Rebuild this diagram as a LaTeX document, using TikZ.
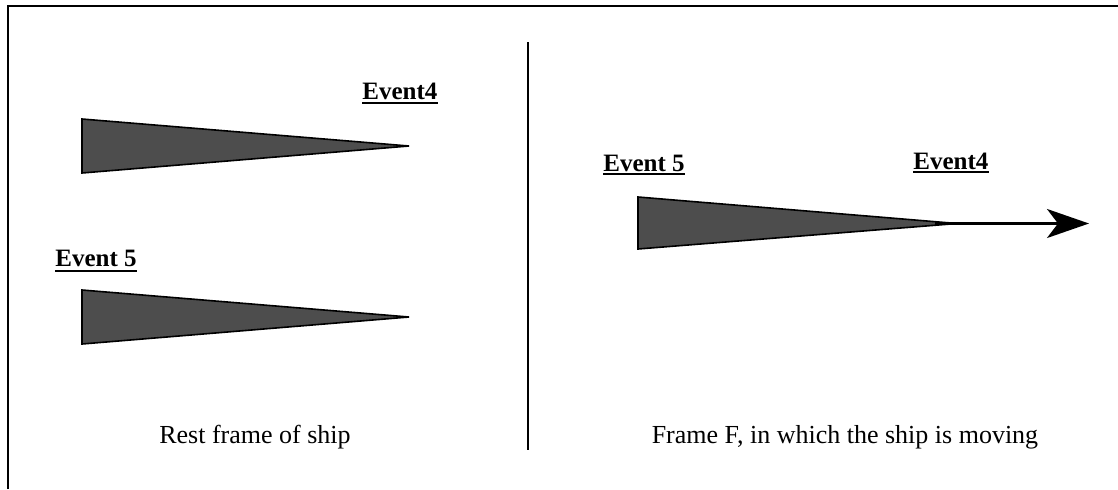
\documentclass[tikz,border=0pt]{standalone}
\usepackage{fontspec}
\setmainfont{Liberation Serif}
\usepackage{xcolor}
\usepackage{tikz}
\usetikzlibrary{arrows.meta,positioning,calc}

\definecolor{shipgray}{RGB}{77,77,77}
\tikzset{
    ship/.style={draw=black, fill=shipgray, line width=0.8pt, line join=miter},
    eventlabel/.style={font=\fontsize{12.5}{15}\selectfont\bfseries, inner sep=0pt, anchor=base west},
    eventline/.style={line width=1pt},
    framelabel/.style={font=\fontsize{13}{16}\selectfont, inner sep=0pt, anchor=base},
    motion/.style={line width=1.3pt, -{Stealth[length=21pt, width=14.5pt, inset=5.5pt]}}
}

\begin{document}
\begin{tikzpicture}[x=0.5pt, y=-0.5pt]
    \useasboundingbox (0,0) rectangle (1118,489);

    % Border and divider
    \draw[line width=1pt] (7.5,489) -- (7.5,5.5) -- (1118,5.5);
    \draw[line width=1pt] (528,42) -- (528,450);

    % Rest frame of ship
    \draw[ship] (82,119) -- (82,173) -- (409,146) -- cycle;
    \node[eventlabel] (evfourA) at (362,99) {Event4\ };
    \draw[eventline] ([yshift=-1.6pt]evfourA.south west) -- ([yshift=-1.6pt]evfourA.south east);

    \draw[ship] (82,290) -- (82,344) -- (409,317) -- cycle;
    \node[eventlabel] (evfiveA) at (55,266) {Event 5\ };
    \draw[eventline] ([yshift=-2pt]evfiveA.south west) -- ([yshift=-2pt]evfiveA.south east);

    \node[framelabel] (restlabel) at (255,443) {Rest frame of ship};

    % Frame F
    \draw[ship] (638,197) -- (638,249) -- (957,223.5) -- cycle;
    \coordinate (shiptip) at (935,223.5);
    \coordinate (arrowend) at (1089,223.5);
    \draw[motion] (shiptip) -- (arrowend);

    \node[eventlabel] (evfiveB) at (603,171) {Event 5\ };
    \draw[eventline] ([yshift=-1.4pt]evfiveB.south west) -- ([yshift=-1.4pt]evfiveB.south east);
    \node[eventlabel] (evfourB) at (913,169) {Event4\ };
    \draw[eventline] ([yshift=-1.4pt]evfourB.south west) -- ([yshift=-1.4pt]evfourB.south east);

    \node[framelabel] (movelabel) at (845,443) {Frame F, in which the ship is moving};
\end{tikzpicture}
\end{document}
